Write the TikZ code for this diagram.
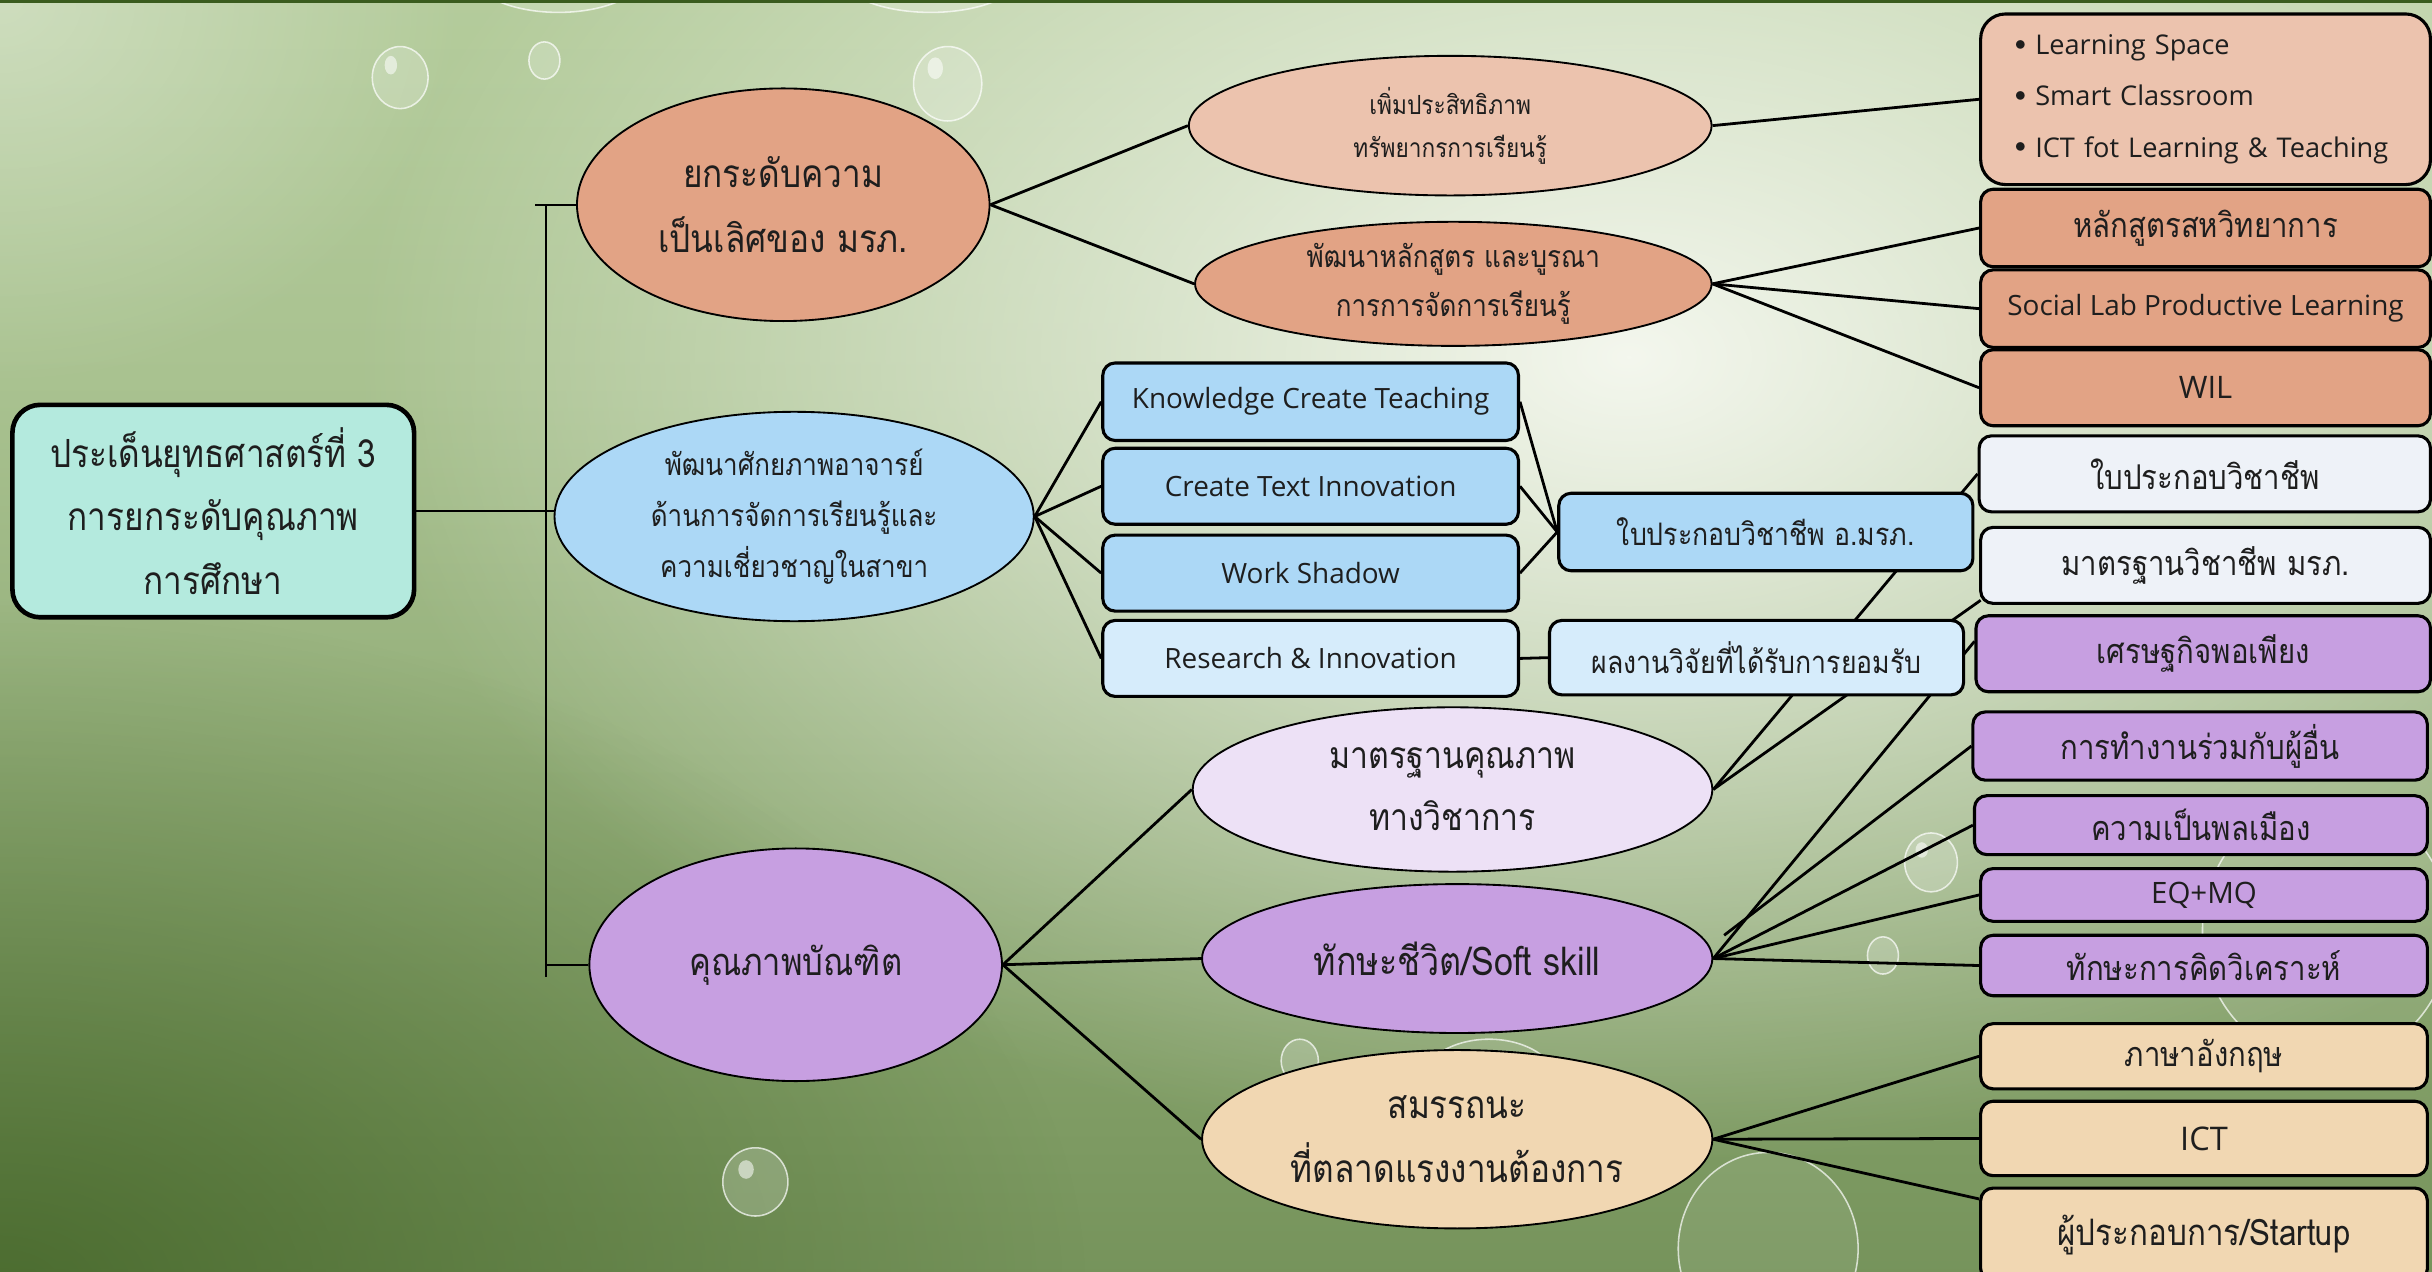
\documentclass[tikz,border=0pt]{standalone}
\usepackage{fontspec}
\setmainfont[Script=Thai, FakeStretch=0.86]{Loma}
\newfontfamily\latin{Open Sans}
\usetikzlibrary{shapes.geometric,fadings,calc}
\definecolor{txt}{HTML}{1E1E1E}
\definecolor{cteal}{HTML}{B4EADE}
\definecolor{csalmon}{HTML}{E2A385}
\definecolor{clsalmon}{HTML}{ECC3AE}
\definecolor{cblue}{HTML}{ACD8F6}
\definecolor{cllblue}{HTML}{D6ECFB}
\definecolor{cpurple}{HTML}{C79FE1}
\definecolor{clav}{HTML}{EDE1F6}
\definecolor{cpeach}{HTML}{F1D7B2}
\definecolor{coff}{HTML}{EEF2F8}
\definecolor{bgtop}{HTML}{C6DCAE}
\definecolor{bgmid}{HTML}{A9C290}
\definecolor{bglow}{HTML}{7D9A62}
\definecolor{bgbot}{HTML}{52723A}
\definecolor{dkgreen}{HTML}{3A5C1E}
\definecolor{glowc}{HTML}{F4F7EE}
\pgfdeclareverticalshading{bgv}{100bp}{color(0bp)=(bgbot); color(30bp)=(bglow); color(60bp)=(bgmid); color(100bp)=(bgtop)}
\tikzfading[name=glowfade, inner color=transparent!0, outer color=transparent!100]
\pgfdeclarelayer{bg}
\pgfdeclarelayer{edges}
\pgfsetlayers{bg,edges,main}
\newcommand{\lsbullet}{\raisebox{3pt}{\fontsize{15}{15}\selectfont$\bullet$}\hspace{6pt}}
\begin{document}
\begin{tikzpicture}[x=1pt,y=-1pt,
  box/.style={draw=black, line width=2pt, rounded corners=8pt, inner sep=0pt, text=txt, align=center},
  ell/.style={ellipse, draw=black, line width=1.2pt, inner sep=0pt, align=center, text=txt},
  link/.style={line width=1.8pt, draw=black},
  brk/.style={line width=1.6pt, draw=black},
  drop/.style={fill=white, fill opacity=0.2, draw=white, draw opacity=0.7, line width=1pt},
  hl/.style={fill=white, opacity=0.55},
  fA/.style={font=\fontsize{25}{42}\selectfont},
  fA3/.style={font=\fontsize{24.5}{42}\selectfont},
  fB/.style={font=\fontsize{19.5}{33}\selectfont},
  fC/.style={font=\fontsize{17}{28}\selectfont},
  fD/.style={font=\fontsize{19.5}{31}\selectfont},
  fL/.style={font=\latin\fontsize{18}{22}\selectfont},
  fT/.style={font=\fontsize{20}{24}\selectfont},
  fF/.style={font=\fontsize{22}{26}\selectfont},
  fG/.style={font=\fontsize{25}{41}\selectfont},
  fM1/.style={font=\fontsize{24}{40}\selectfont},
  fM2/.style={font=\fontsize{25.5}{40}\selectfont}
]
\useasboundingbox (0,0) rectangle (1568,820);
% background
\begin{pgfonlayer}{bg}
\shade[shading=bgv] (0,0) rectangle (1568,820);
\begin{scope}
\clip (0,0) rectangle (1568,820);
\fill[glowc, path fading=glowfade] (1050,230) ellipse (820 and 520);
\fill[dkgreen, path fading=glowfade, opacity=0.7] (0,830) ellipse (700 and 440);
\fill[white, path fading=glowfade, opacity=0.35] (0,0) ellipse (300 and 250);
\draw[drop] (258,50) ellipse (18 and 20);
\draw[drop] (351,39) ellipse (10 and 12);
\draw[drop] (611,54) ellipse (22 and 24);
\draw[drop] (487,762) ellipse (21 and 22);
\draw[drop] (1245,556) ellipse (17 and 19);
\draw[drop] (1214,616) ellipse (10 and 12);
\draw[drop] (838,684) ellipse (12 and 14);
\draw[drop, fill opacity=0.08] (1140,805) ellipse (58 and 62);
\draw[drop, fill opacity=0.08] (1500,600) ellipse (80 and 85);
\draw[drop, fill opacity=0.08] (960,700) ellipse (45 and 30);
\draw[drop] (360,-22) ellipse (60 and 30);
\draw[drop] (600,-18) ellipse (60 and 26);
\fill[hl] (252,42) ellipse (4 and 6);
\fill[hl] (603,44) ellipse (5 and 7);
\fill[hl] (481,754) ellipse (5 and 6);
\fill[hl] (1239,548) ellipse (4 and 5);
\end{scope}
\draw[dkgreen, line width=2.5pt] (0,1) -- (1568,1);
\end{pgfonlayer}

% main nodes
\node[box, fill=cteal, line width=3pt, rounded corners=18pt, minimum width=259pt, minimum height=137pt, fG]
  (LB) at (137.5,329.5) {ประเด็นยุทธศาสตร์ที่ 3\\การยกระดับคุณภาพ\\การศึกษา};
\node[ell, fill=csalmon, minimum width=266pt, minimum height=150pt, fA]
  (E1) at (505,132) {ยกระดับความ\\เป็นเลิศของ มรภ.};
\node[ell, fill=cblue, minimum width=309pt, minimum height=135pt, fB]
  (E2) at (512,333) {พัฒนาศักยภาพอาจารย์\\ด้านการจัดการเรียนรู้และ\\ความเชี่ยวชาญในสาขา};
\node[ell, fill=cpurple, minimum width=266pt, minimum height=150pt, fA3]
  (E3) at (513,622) {คุณภาพบัณฑิต};

% branch 1
\node[ell, fill=clsalmon, minimum width=337pt, minimum height=90pt, fC]
  (E1a) at (935,81) {เพิ่มประสิทธิภาพ\\ทรัพยากรการเรียนรู้};
\node[ell, fill=csalmon, minimum width=333pt, minimum height=80pt, fD]
  (E1b) at (937,183) {พัฒนาหลักสูตร และบูรณา\\การการจัดการเรียนรู้};
\node[box, fill=clsalmon, rounded corners=16pt, minimum width=290pt, minimum height=110pt,
  text width=246pt, align=left, font=\latin\fontsize{17.5}{33}\selectfont]
  (LS) at (1422,64) {\lsbullet Learning Space\\\lsbullet Smart Classroom\\\lsbullet ICT fot Learning \& Teaching};
\node[box, fill=csalmon, minimum width=290pt, minimum height=50pt, fF] (C1) at (1422,147) {หลักสูตรสหวิทยาการ};
\node[box, fill=csalmon, minimum width=290pt, minimum height=50pt, fL] (C2) at (1422,199) {Social Lab Productive Learning};
\node[box, fill=csalmon, minimum width=290pt, minimum height=49pt, font=\latin\fontsize{20}{24}\selectfont] (C3) at (1422,250) {WIL};

% branch 2
\node[box, fill=cblue, minimum width=268pt, minimum height=50pt, fL] (K1) at (845,259) {Knowledge Create Teaching};
\node[box, fill=cblue, minimum width=268pt, minimum height=49pt, fL] (K2) at (845,313.5) {Create Text Innovation};
\node[box, fill=cblue, minimum width=268pt, minimum height=49pt, fL] (K3) at (845,369.5) {Work Shadow};
\node[box, fill=cllblue, minimum width=268pt, minimum height=49pt, fL] (K4) at (845,424.5) {Research \& Innovation};
\node[box, fill=cblue, minimum width=267pt, minimum height=50pt, fT] (L1) at (1138.5,343) {ใบประกอบวิชาชีพ อ.มรภ.};
\node[box, fill=cllblue, minimum width=267pt, minimum height=48pt, fT] (L2) at (1132.5,424) {ผลงานวิจัยที่ได้รับการยอมรับ};

% right column
\node[box, fill=coff, minimum width=291pt, minimum height=49pt, fF] (R1) at (1421.5,305.5) {ใบประกอบวิชาชีพ};
\node[box, fill=coff, minimum width=290pt, minimum height=49pt, fF] (R2) at (1422,364.5) {มาตรฐานวิชาชีพ มรภ.};
\node[box, fill=cpurple, minimum width=293pt, minimum height=49pt, fF] (S1) at (1420.5,421.5) {เศรษฐกิจพอเพียง};
\node[box, fill=cpurple, minimum width=293pt, minimum height=44pt, fF] (S2) at (1418.5,481) {การทำงานร่วมกับผู้อื่น};
\node[box, fill=cpurple, minimum width=292pt, minimum height=38pt, fF] (S3) at (1419,532) {ความเป็นพลเมือง};
\node[box, fill=cpurple, minimum width=288pt, minimum height=34pt, font=\latin\fontsize{19}{22}\selectfont] (S4) at (1421,577) {EQ+MQ};
\node[box, fill=cpurple, minimum width=288pt, minimum height=39pt, fF] (S5) at (1421,622.5) {ทักษะการคิดวิเคราะห์};
\node[box, fill=cpeach, minimum width=288pt, minimum height=42pt, fF] (P1) at (1421,681) {ภาษาอังกฤษ};
\node[box, fill=cpeach, minimum width=288pt, minimum height=48pt, font=\latin\fontsize{21}{24}\selectfont] (P2) at (1421,734) {ICT};
\node[box, fill=cpeach, minimum width=288pt, minimum height=60pt, font=\fontsize{23.5}{26}\selectfont] (P3) at (1421,796) {ผู้ประกอบการ/Startup};

% branch 3 ellipses
\node[ell, fill=clav, minimum width=335pt, minimum height=106pt, fM1] (M1) at (936.5,509) {มาตรฐานคุณภาพ\\ทางวิชาการ};
\node[ell, fill=cpurple, minimum width=329pt, minimum height=96pt, fM2] (M2) at (939.5,618) {ทักษะชีวิต/Soft skill};
\node[ell, fill=cpeach, minimum width=329pt, minimum height=115pt, fG] (M3) at (939.5,734.5) {สมรรถนะ\\ที่ตลาดแรงงานต้องการ};

% connectors
\coordinate (btop) at (352,132);
\coordinate (bbot) at (352,630);
\coordinate (bstub) at (345,132);
\begin{pgfonlayer}{edges}
\draw[brk] (btop) -- (bbot);
\draw[brk] (bstub) -- (E1.west);
\draw[brk] (E3.west -| btop) -- (E3.west);
\draw[brk] (LB.east) -- (LB.east -| E2.west);
\draw[link] (E1.east) -- (E1a.west);
\draw[link] (E1.east) -- (E1b.west);
\draw[link] (E1a.east) -- (LS.west);
\draw[link] (E1b.east) -- (C1.west);
\draw[link] (E1b.east) -- (C2.west);
\draw[link] (E1b.east) -- (C3.west);
\draw[link] (E2.east) -- (K1.west);
\draw[link] (E2.east) -- (K2.west);
\draw[link] (E2.east) -- (K3.west);
\draw[link] (E2.east) -- (K4.west);
\draw[link] (K1.east) -- (L1.west);
\draw[link] (K2.east) -- (L1.west);
\draw[link] (K3.east) -- (L1.west);
\draw[link] (K4.east) -- (L2.west);
\draw[link] (E3.east) -- (M1.west);
\draw[link] (E3.east) -- (M2.west);
\draw[link] (E3.east) -- (M3.west);
\draw[link] (M1.east) -- (R1.west);
\draw[link] (M1.east) -- ([shift={(1,-3)}]R2.south west);
\draw[link] (M2.east) -- ([shift={(0,-8)}]S1.west);
\draw[link] ([shift={(7,-15)}]M2.east) -- (S2.west);
\draw[link] (M2.east) -- (S3.west);
\draw[link] (M2.east) -- (S4.west);
\draw[link] (M2.east) -- (S5.west);
\draw[link] (M3.east) -- (P1.west);
\draw[link] (M3.east) -- (P2.west);
\draw[link] (M3.east) -- ([shift={(0,8)}]P3.north west);
\end{pgfonlayer}
\end{tikzpicture}
\end{document}
